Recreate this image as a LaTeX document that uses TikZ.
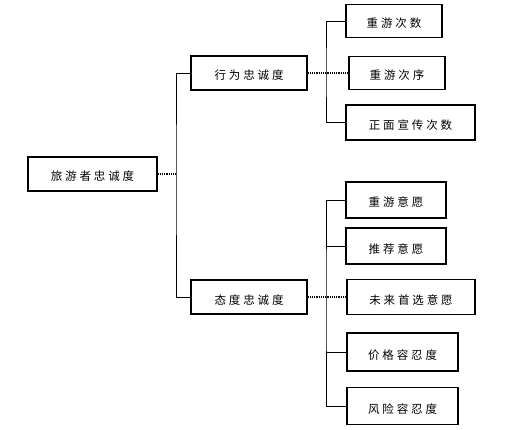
\documentclass[tikz,border=0pt]{standalone}
\usepackage{fontspec}
\newfontfamily\cjk[LetterSpace=25]{Noto Sans CJK SC}
\usepackage{tikz}
\usetikzlibrary{arrows,positioning}
\tikzstyle{box}=[draw, line width=1.1pt, fill=white, align=center, inner sep=0pt, text height=14pt, text depth=0pt]
\tikzstyle{link}=[line width=0.6pt]
\tikzstyle{dotlink}=[line width=1.2pt, densely dotted]

\begin{document}
\begin{tikzpicture}[x=1pt,y=-1pt,font=\cjk\fontsize{11.5}{12}\selectfont]
        \useasboundingbox (0,0) rectangle (513,430);
        \node [box,minimum width=129pt,minimum height=34pt] (root) at (92.5,174) {旅游者忠诚度};
        \node [box,minimum width=116pt,minimum height=34pt] (a) at (249,73) {行为忠诚度};
        \node [box,minimum width=116pt,minimum height=34pt] (b) at (249,297) {态度忠诚度};
        \node [box,minimum width=96pt,minimum height=33pt] (c) at (394,21) {重游次数};
        \node [box,minimum width=96pt,minimum height=33pt] (d) at (397,73) {重游次序};
        \node [box,minimum width=129pt,minimum height=35pt] (e) at (410.5,122.5) {正面宣传次数};
        \node [box,minimum width=100pt,minimum height=36pt] (f) at (396,200) {重游意愿};
        \node [box,minimum width=100pt,minimum height=36pt] (g) at (396,246) {推荐意愿};
        \node [box,minimum width=128pt,minimum height=35pt] (h) at (411,297) {未来首选意愿};
        \node [box,minimum width=111pt,minimum height=38pt] (i) at (402.5,352) {价格容忍度};
        \node [box,minimum width=111pt,minimum height=37pt] (k) at (402.5,406) {风险容忍度};
        % junctions
        \coordinate (j1) at (176,174);
        \coordinate (j2) at (326,73);
        \coordinate (j3) at (326,297);
        \draw [dotlink] (root.east) -- (j1);
        \draw [link] (a.west) -| (j1) |- (b.west);
        \draw [dotlink] (a.east) -- (d.west);
        \draw [link] (c.west) -| (j2) |- (e.west);
        \draw [dotlink] (b.east) -- (h.west);
        \draw [link] (f.west) -| (j3) |- (k.west);
        \draw [link] (g.west) -- (g.west -| j3);
        \draw [link] (i.west) -- (i.west -| j3);
    \end{tikzpicture}
\end{document}
